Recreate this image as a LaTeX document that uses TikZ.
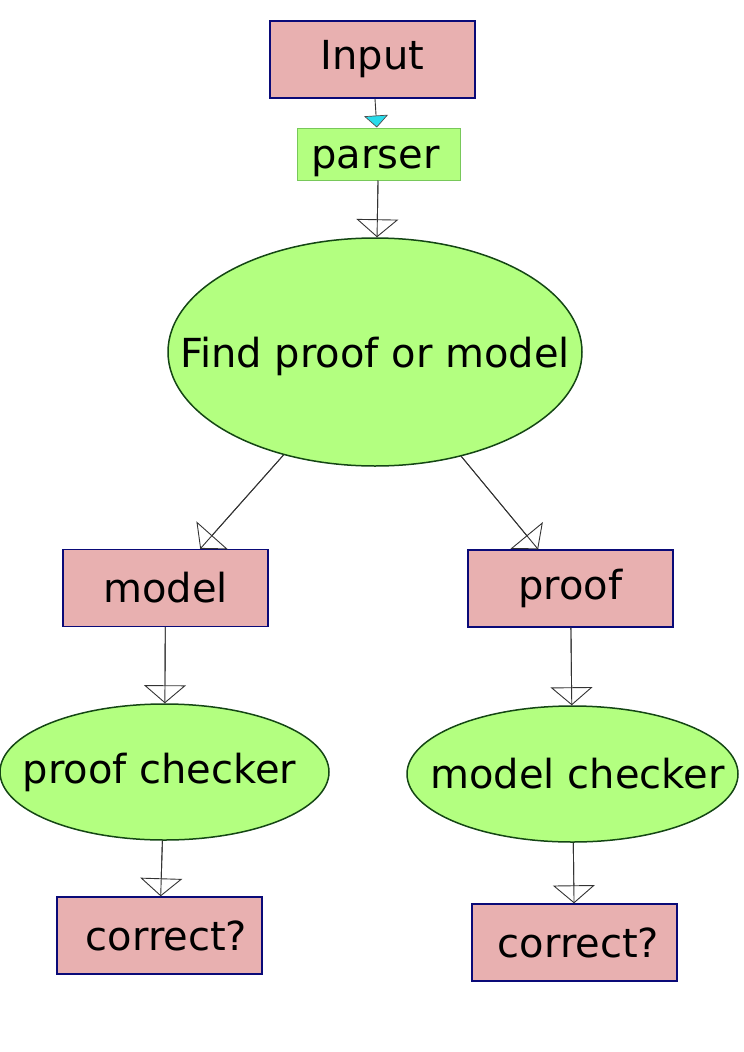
\documentclass[tikz,border=0pt]{standalone}
\usepackage{fontspec}
\setmainfont{DejaVu Sans}
\usetikzlibrary{shapes.geometric,arrows.meta}
\definecolor{pinkfill}{RGB}{232,176,176}
\definecolor{greenfill}{RGB}{179,255,128}
\definecolor{navy}{RGB}{10,10,120}
\definecolor{darkgreen}{RGB}{20,70,20}
\definecolor{parsergreen}{RGB}{120,200,90}
\definecolor{tipcyan}{RGB}{40,220,235}
\tikzset{
  pbox/.style={draw=navy, line width=1.4pt, fill=pinkfill, minimum width=205pt, minimum height=77pt, inner sep=0pt, font=\fontsize{40}{44}\selectfont},
  gell/.style={ellipse, draw=darkgreen, line width=1.5pt, fill=greenfill, inner sep=0pt, font=\fontsize{40}{44}\selectfont},
  pbx/.style={draw=parsergreen, line width=1pt, fill=greenfill, minimum width=163pt, minimum height=52pt, inner sep=0pt, font=\fontsize{40}{44}\selectfont},
  conn/.style={draw=black!80, line width=0.9pt},
  openarr/.style={conn, -{Triangle[open, length=18pt, width=42pt, line width=0.9pt]}},
  cyanarr/.style={conn, -{Triangle[fill=tipcyan, color=black!70, length=12pt, width=24pt, line width=0.7pt]}},
}
\begin{document}
\begin{tikzpicture}[x=1pt,y=-1pt]
\useasboundingbox (0,0) rectangle (744,1052);
\node[pbox] (input) at (372.5,59.5) {Input};
\node[pbx, text height=36pt, text depth=8pt] (parser) at (378.5,154) {\hspace{-6pt}parser};
\node[gell, minimum width=414pt, minimum height=228pt, text height=38pt, text depth=8pt] (find) at (375,352) {\makebox[0pt]{Find proof or model}};
\node[pbox] (model) at (165.5,588) {model};
\node[pbox] (proof) at (570.5,588.5) {\raisebox{3pt}{proof}\hspace{6pt}};
\node[gell, minimum width=329pt, minimum height=136pt] (pc) at (164.5,772) {\makebox[0pt]{proof checker\hspace{10pt}}};
\node[gell, minimum width=331pt, minimum height=136pt] (mc) at (572.5,774) {\makebox[0pt]{\hspace{10pt}model checker}};
\node[pbox] (c1) at (159.5,935.5) {\hspace{14pt}correct?};
\node[pbox] (c2) at (574.5,942.5) {\hspace{8pt}correct?};
\draw[cyanarr] (input) -- (parser);
\draw[conn] (parser) -- (find);
\draw[openarr] (parser) -- (find);
\draw[conn] (find) -- (model);
\draw[openarr] (find) -- (model);
\draw[conn] (find) -- (proof);
\draw[openarr] (find) -- (proof);
\draw[conn] (model) -- (pc);
\draw[openarr] (model) -- (pc);
\draw[conn] (proof) -- (mc);
\draw[openarr] (proof) -- (mc);
\draw[conn] (pc) -- (c1);
\draw[openarr] (pc) -- (c1);
\draw[conn] (mc) -- (c2);
\draw[openarr] (mc) -- (c2);
\end{tikzpicture}
\end{document}
